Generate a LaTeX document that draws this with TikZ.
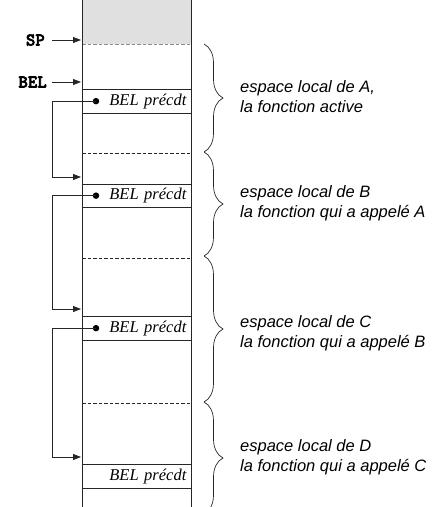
\documentclass[tikz,border=0pt]{standalone}
\usepackage{fontspec}
\setmainfont{Liberation Serif}
\setsansfont{Liberation Sans}
\newfontfamily\regfont{lmmonolt10-bold}[Extension=.otf,FakeBold=3]
\usetikzlibrary{arrows.meta,decorations.pathreplacing,calc}

\begin{document}
\begin{tikzpicture}[x=1pt,y=-1pt,
  ink/.style={draw=black!85,line width=0.8pt},
  wall/.style={ink},
  cell/.style={ink,anchor=north west,minimum width=109pt,minimum height=23.5pt,
    inner xsep=5pt,inner ysep=0pt,text width=99pt,align=right,
    font=\fontsize{16.5}{16.5}\selectfont\itshape},
  sep/.style={draw=black!85,line width=0.7pt,dash pattern=on 3.5pt off 2pt},
  dot/.style={circle,fill=black,inner sep=0pt,minimum size=6.5pt},
  link/.style={ink,-{Triangle[length=8pt,width=6pt]}},
  reg/.style={anchor=east,inner sep=0pt,font=\regfont\fontsize{18}{18}\selectfont},
  curly/.style={draw=black!85,line width=0.7pt,decorate,
    decoration={brace,amplitude=19pt,aspect=0.5}},
  note/.style={anchor=west,inner sep=0pt,align=left,
    font=\fontsize{16.5}{20}\selectfont\sffamily\itshape}
]
\useasboundingbox (0,0) rectangle (441,507);

% used part of the stack, above the stack pointer
\fill[black!12] (82,0) rectangle (191,44);
\draw[draw=black!45,line width=0.7pt,dash pattern=on 3.5pt off 2pt] (82,44) -- (191,44);

% frame boundaries inside the stack
\draw[sep] (82,153) -- (191,153);
\draw[sep] (82,258) -- (191,258);
\draw[sep] (82,403) -- (191,403);

% saved base pointers
\node[cell] (b1) at (82,89)  {BEL précdt};
\node[cell] (b2) at (82,183.5) {BEL précdt};
\node[cell] (b3) at (82,316) {BEL précdt};
\node[cell] (b4) at (82,464) {BEL précdt};

% the two sides of the stack
\draw[wall] (82,0) -- (82,507);
\draw[wall] (191,0) -- (191,507);

% registers
\node[reg] (sp)  at (45,40) {SP};
\node[reg] (bel) at (47,82) {BEL};
\coordinate (spt)  at (81,40);
\coordinate (belt) at (81,82);
\draw[link,shorten <=7pt] (sp.east) -- (spt);
\draw[link,shorten <=5pt] (bel.east) -- (belt);

% chain of saved base pointers
\node[dot] (d1) at ($(b1.west)+(14,0)$) {};
\node[dot] (d2) at ($(b2.west)+(14,0)$) {};
\node[dot] (d3) at ($(b3.west)+(14,0)$) {};
\coordinate (t1) at (81,177);
\coordinate (t2) at (81,309);
\coordinate (t3) at (81,457);
\draw[link] (d1.center) -| ($(t1)+(-29,0)$) -- (t1);
\draw[link] (d2.center) -| ($(t2)+(-29,0)$) -- (t2);
\draw[link] (d3.center) -| ($(t3)+(-29,0)$) -- (t3);

% frames
\coordinate (f0) at (204,44);
\coordinate (f1) at (204,152);
\coordinate (f2) at (204,256);
\coordinate (f3) at (204,402);
\coordinate (f4) at (204,514);
\draw[curly] (f0) -- (f1);
\draw[curly] (f1) -- (f2);
\draw[curly] (f2) -- (f3);
\draw[curly] (f3) -- (f4);

\node[note] (nA) at (240,97)  {espace local de A,\\la fonction active};
\node[note] (nB) at (240,203) {espace local de B\\la fonction qui a appelé A};
\node[note] (nC) at (240,333) {espace local de C\\la fonction qui a appelé B};
\node[note] (nD) at (240,457) {espace local de D\\la fonction qui a appelé C};
\end{tikzpicture}
\end{document}
